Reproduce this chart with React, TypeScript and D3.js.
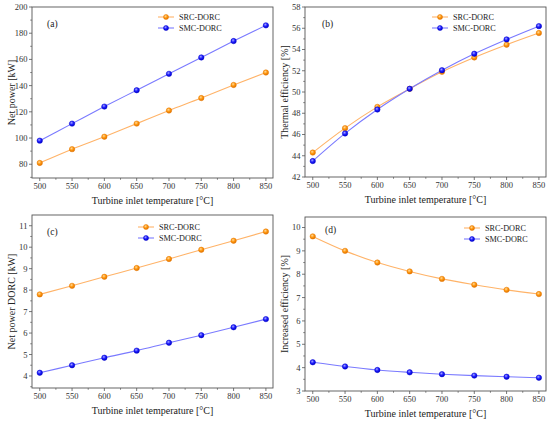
import React from 'react'
import * as d3 from 'd3'

const temps = [500, 550, 600, 650, 700, 750, 800, 850]

const netPowerSRC = [81, 91.5, 101, 111, 121, 130.5, 140.5, 150]
const netPowerSMC = [98, 111, 124, 136.5, 149, 161.5, 174, 186]

const effSRC = [44.3, 46.6, 48.6, 50.3, 51.9, 53.25, 54.45, 55.55]
const effSMC = [43.5, 46.1, 48.35, 50.3, 52.05, 53.6, 54.95, 56.2]

const dorcSRC = [7.8, 8.2, 8.62, 9.03, 9.45, 9.88, 10.3, 10.73]
const dorcSMC = [4.15, 4.5, 4.85, 5.18, 5.55, 5.9, 6.27, 6.65]

const incSRC = [9.62, 9.0, 8.5, 8.12, 7.8, 7.55, 7.33, 7.15]
const incSMC = [4.23, 4.05, 3.9, 3.8, 3.72, 3.66, 3.61, 3.57]

const seriesNames = ['SRC-DORC', 'SMC-DORC']
const xTitle = 'Turbine inlet temperature [°C]'

const FONT = '"Liberation Serif", "Times New Roman", serif'
const lineColors = ['#ffb368', '#7a7aff']
const markerColors = ['#e67800', '#0000d0']

interface PanelProps {
  left: number
  top: number
  width: number
  height: number
  yDomain: [number, number]
  yTicks: number[]
  yTitle: string
  label: string
  labelPos: [number, number]
  src: number[]
  smc: number[]
  legendPos: [number, number]
}

const Panel = ({ left, top, width, height, yDomain, yTicks, yTitle, label, labelPos, src, smc, legendPos }: PanelProps) => {
  const x = d3.scaleLinear().domain([488, 861]).range([0, width])
  const y = d3.scaleLinear().domain(yDomain).range([height, 0])
  const step = yTicks[1] - yTicks[0]
  const yMinor = yTicks.map((t) => t + step / 2).filter((t) => t > yDomain[0] && t < yDomain[1])
  const yMinorLow = yTicks[0] - step / 2
  if (yMinorLow > yDomain[0]) yMinor.push(yMinorLow)
  const xMinor = temps.map((t) => t + 25).filter((t) => t < 861)

  const line = d3
    .line<number>()
    .x((_, i) => x(temps[i]))
    .y((d) => y(d))
    .curve(d3.curveMonotoneX)

  const series = [src, smc]

  return (
    <g transform={`translate(${left},${top})`}>
      {series.map((s, k) => (
        <path key={'l' + k} d={line(s) || ''} fill="none" stroke={lineColors[k]} strokeWidth={1.1} />
      ))}
      {series.map((s, k) =>
        s.map((v, i) => (
          <circle
            key={'m' + k + i}
            cx={x(temps[i])}
            cy={y(v)}
            r={2.7}
            fill={`url(#grad${k})`}
            stroke={markerColors[k]}
            strokeWidth={0.5}
          />
        ))
      )}
      <rect x={0} y={0} width={width} height={height} fill="none" stroke="#555" strokeWidth={0.9} />
      {temps.map((t) => (
        <g key={'xt' + t} transform={`translate(${x(t)},${height})`}>
          <line y2={3} stroke="#555" strokeWidth={0.8} />
          <text y={11} textAnchor="middle" fontSize={8.5} fontFamily={FONT} fill="#333">
            {t}
          </text>
        </g>
      ))}
      {xMinor.map((t) => (
        <line key={'xm' + t} x1={x(t)} x2={x(t)} y1={height} y2={height + 1.8} stroke="#555" strokeWidth={0.7} />
      ))}
      {yTicks.map((t) => (
        <g key={'yt' + t} transform={`translate(0,${y(t)})`}>
          <line x2={-3} stroke="#555" strokeWidth={0.8} />
          <text x={-4.5} dy="0.35em" textAnchor="end" fontSize={8.5} fontFamily={FONT} fill="#333">
            {t}
          </text>
        </g>
      ))}
      {yMinor.map((t) => (
        <line key={'ym' + t} x1={0} x2={-1.8} y1={y(t)} y2={y(t)} stroke="#555" strokeWidth={0.7} />
      ))}
      <text x={width / 2} y={height + 26} textAnchor="middle" fontSize={10} fontFamily={FONT} fill="#222">
        {xTitle}
      </text>
      <text
        transform={`translate(-17,${height / 2}) rotate(-90)`}
        textAnchor="middle"
        fontSize={10}
        fontFamily={FONT}
        fill="#222"
      >
        {yTitle}
      </text>
      <text x={labelPos[0]} y={labelPos[1]} fontSize={9.5} fontFamily={FONT} fill="#222">
        {label}
      </text>
      {seriesNames.map((n, k) => (
        <g key={'lg' + k} transform={`translate(${legendPos[0]},${legendPos[1] + k * 11})`}>
          <line x1={0} x2={16} stroke={lineColors[k]} strokeWidth={1.1} />
          <circle cx={8} cy={0} r={2.5} fill={`url(#grad${k})`} stroke={markerColors[k]} strokeWidth={0.5} />
          <text x={21} dy="0.35em" fontSize={8.2} fontFamily={FONT} fill="#222">
            {n}
          </text>
        </g>
      ))}
    </g>
  )
}

const App = () => {
  return (
    <svg width={550} height={423} style={{ position: 'absolute', left: 0, top: 0, background: '#fff' }}>
      <defs>
        <radialGradient id="grad0" cx="0.4" cy="0.35" r="0.65">
          <stop offset="0" stopColor="#ffd9a0" />
          <stop offset="0.5" stopColor="#ff9a10" />
          <stop offset="1" stopColor="#e07000" />
        </radialGradient>
        <radialGradient id="grad1" cx="0.4" cy="0.35" r="0.65">
          <stop offset="0" stopColor="#a8a8ff" />
          <stop offset="0.5" stopColor="#2020ff" />
          <stop offset="1" stopColor="#0000c8" />
        </radialGradient>
      </defs>
      <rect width={550} height={423} fill="#fff" />
      <Panel
        left={32}
        top={7}
        width={241}
        height={171}
        yDomain={[69.5, 200]}
        yTicks={[80, 100, 120, 140, 160, 180, 200]}
        yTitle="Net power [kW]"
        label="(a)"
        labelPos={[15, 20]}
        src={netPowerSRC}
        smc={netPowerSMC}
        legendPos={[126, 10]}
      />
      <Panel
        left={305}
        top={7}
        width={241}
        height={170}
        yDomain={[42, 58]}
        yTicks={[42, 44, 46, 48, 50, 52, 54, 56, 58]}
        yTitle="Thermal efficiency [%]"
        label="(b)"
        labelPos={[17, 20]}
        src={effSRC}
        smc={effSMC}
        legendPos={[127, 10]}
      />
      <Panel
        left={32}
        top={215}
        width={241}
        height={173}
        yDomain={[3.44, 11.5]}
        yTicks={[4, 5, 6, 7, 8, 9, 10, 11]}
        yTitle="Net power DORC [kW]"
        label="(c)"
        labelPos={[15, 20]}
        src={dorcSRC}
        smc={dorcSMC}
        legendPos={[106, 12]}
      />
      <Panel
        left={305}
        top={217}
        width={241}
        height={174}
        yDomain={[3, 10.45]}
        yTicks={[3, 4, 5, 6, 7, 8, 9, 10]}
        yTitle="Increased efficiency [%]"
        label="(d)"
        labelPos={[20, 16]}
        src={incSRC}
        smc={incSMC}
        legendPos={[159, 11]}
      />
    </svg>
  )
}

export default App
